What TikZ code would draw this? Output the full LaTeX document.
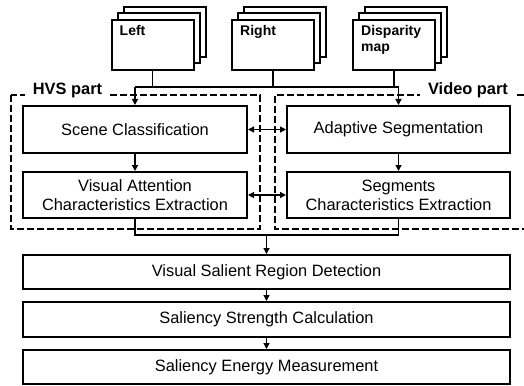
\documentclass[tikz,border=0pt]{standalone}
\usepackage{fontspec}
\setmainfont{Liberation Sans}
\usetikzlibrary{arrows.meta,shadows}
\begin{document}
\begin{tikzpicture}[x=1pt,y=-1pt,
    box/.style={draw,line width=2pt,fill=white,align=center,inner sep=0pt,font=\fontsize{16.4}{19}\selectfont},
    stack/.style={draw,line width=2pt,fill=white,minimum width=82pt,minimum height=50pt,
      copy shadow={shadow xshift=12pt,shadow yshift=13pt,line width=2pt},
      copy shadow={shadow xshift=6pt,shadow yshift=6.5pt,line width=2pt}},
    stacklabel/.style={anchor=north west,inner xsep=9pt,inner ysep=6pt,align=left,font=\bfseries\fontsize{14}{16.5}\selectfont},
    conn/.style={line width=1.3pt},
    tip/.style={-{Triangle[length=6pt,width=6pt]}},
    both/.style={{Triangle[length=6pt,width=6pt]}-{Triangle[length=6pt,width=6pt]}},
    part/.style={line width=2.4pt,dash pattern=on 7pt off 3pt},
    partlabel/.style={fill=white,inner xsep=8pt,inner ysep=2pt,anchor=base,font=\bfseries\fontsize{16.4}{19}\selectfont}]
      \useasboundingbox(0,0)rectangle(524,385);

      \node[stack,label={[stacklabel]north west:Left}](left)at(152.5,45){};
      \node[stack,label={[stacklabel]north west:Right}](right)at(273,45){};
      \node[stack,label={[stacklabel]north west:Disparity\\map}](disp)at(394,45){};

      \node[box,minimum width=224pt,minimum height=47pt](scene)at(135,129.5){Scene Classification};
      \node[box,minimum width=224pt,minimum height=46pt](visual)at(135,195){Visual Attention\\Characteristics Extraction};
      \node[box,minimum width=223pt,minimum height=47pt](adapt)at(398.5,129.5){Adaptive Segmentation};
      \node[box,minimum width=223pt,minimum height=46pt](segm)at(398.5,195){Segments\\Characteristics Extraction};
      \node[box,minimum width=487pt,minimum height=34pt](region)at(266.5,272){Visual Salient Region Detection};
      \node[box,minimum width=487pt,minimum height=35pt](strength)at(266.5,319.5){Saliency Strength Calculation};
      \node[box,minimum width=487pt,minimum height=34pt](energy)at(266.5,367){Saliency Energy Measurement};

      \coordinate(bus)at(0,87);
      \coordinate(merge)at(0,235);
      \draw[conn](left.south)--(left.south|-bus);
      \draw[conn](right.south)--(right.south|-bus);
      \draw[conn](disp.south)--(disp.south|-bus);
      \draw[conn](scene.north|-bus)--(adapt.north|-bus);
      \draw[conn,tip](scene.north|-bus)--(scene.north);
      \draw[conn,tip](adapt.north|-bus)--(adapt.north);

      \draw[conn,tip](scene.south)--(visual.north);
      \draw[conn,tip](adapt.south)--(segm.north);
      \draw[conn,both](scene.east)--(adapt.west);
      \draw[conn,both](visual.east)--(segm.west);

      \draw[conn](visual.south)--(visual.south|-merge)--(segm.south|-merge)--(segm.south);
      \draw[conn,tip](region.north|-merge)--(region.north);
      \draw[conn,tip](region.south)--(strength.north);
      \draw[conn,tip](strength.south)--(energy.north);

      \draw[part](11,95)rectangle(260,229);
      \draw[part](524,95)--(275,95)--(275,229)--(524,229);
      \node[partlabel](hvs)at(67.5,95){HVS part};
      \node[partlabel](video)at(468,95){Video part};
    \end{tikzpicture}
\end{document}
